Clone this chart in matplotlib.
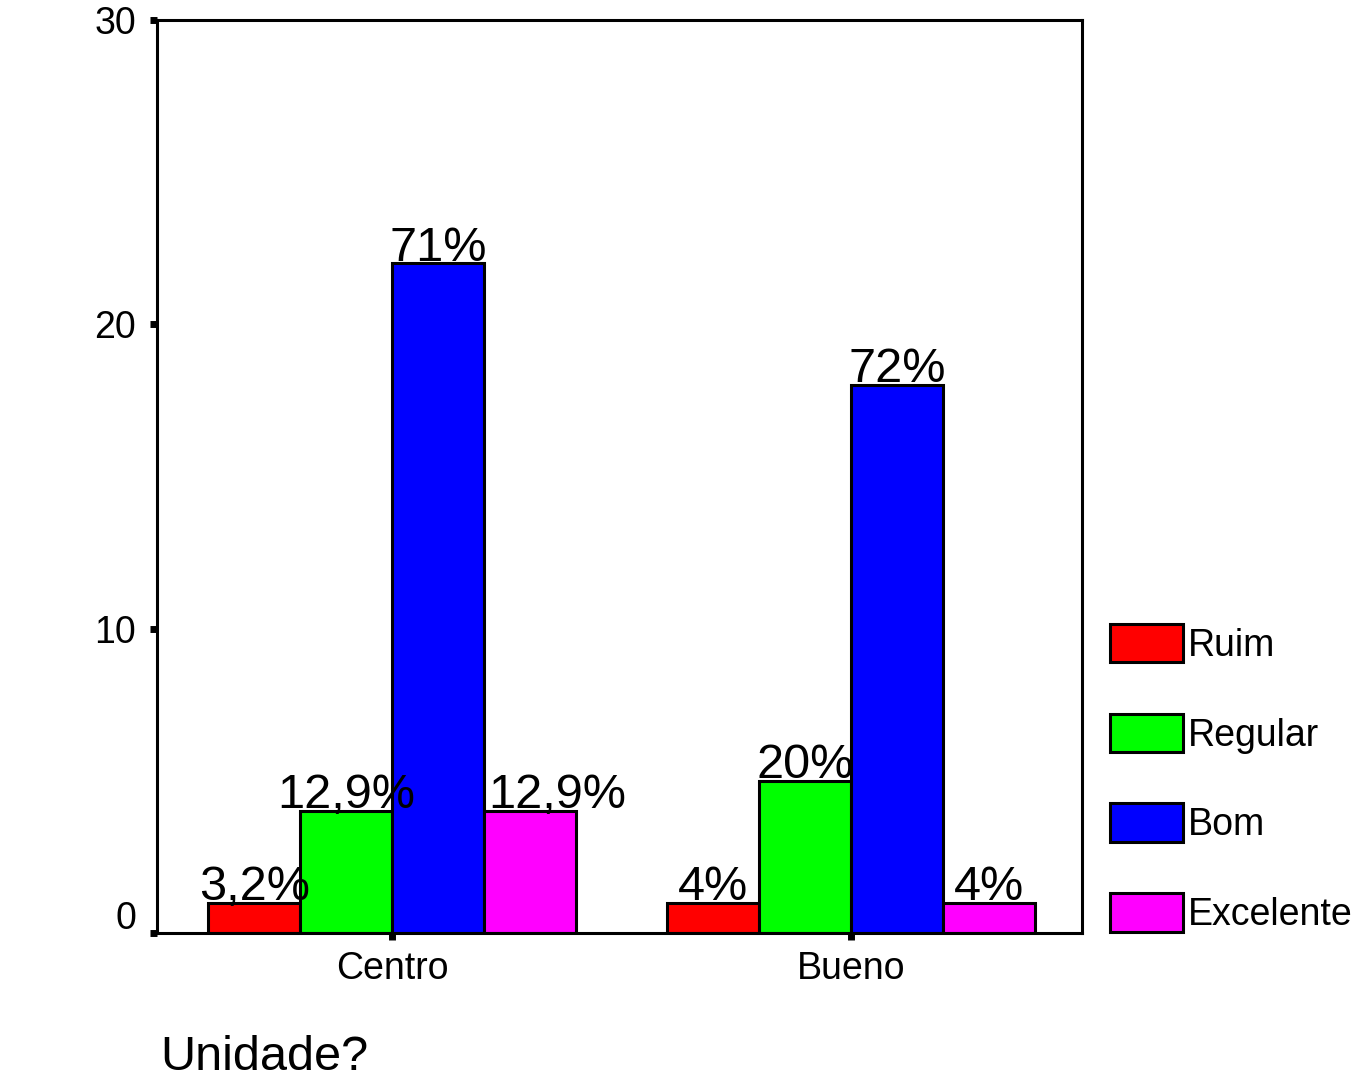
import numpy as np
import matplotlib
matplotlib.use("Agg")
import matplotlib.pyplot as plt
from matplotlib.transforms import ScaledTranslation

plt.rcParams['font.family'] = ['Liberation Sans', 'DejaVu Sans']

# datos
unidades = ['Centro', 'Bueno']
categorias = ['Ruim', 'Regular', 'Bom', 'Excelente']
contagem = {
    'Ruim': [1, 1],
    'Regular': [4, 5],
    'Bom': [22, 18],
    'Excelente': [4, 1],
}
rotulos = {
    'Ruim': ['3,2%', '4%'],
    'Regular': ['12,9%', '20%'],
    'Bom': ['71%', '72%'],
    'Excelente': ['12,9%', '4%'],
}
cores = ['#ff0000', '#00ff00', '#0000ff', '#ff00ff']

fig = plt.figure(figsize=(13.56, 10.84), dpi=100)
ax = fig.add_axes([157 / 1356, 1 - 933 / 1084, (1082 - 157) / 1356, (933 - 20) / 1084])

x = np.arange(len(unidades))
w = 0.2
for i, cat in enumerate(categorias):
    pos = x + (i - 1.5) * w
    ax.bar(pos, contagem[cat], width=w, color=cores[i], edgecolor='black',
           linewidth=2.2, label=cat, zorder=2)
    for j, (p, v) in enumerate(zip(pos, contagem[cat])):
        dx = 20 if (cat == 'Excelente' and j == 0) else 0
        ax.annotate(rotulos[cat][j], (p, v), xytext=(dx, 2), textcoords='offset points',
                    ha='center', va='baseline', fontsize=35, zorder=3)

ax.set_xlim(-0.512, 1.503)
ax.set_ylim(0, 30)
ax.set_yticks([0, 10, 20, 30])
ax.set_xticks(x)
ax.set_xticklabels(unidades)
ax.tick_params(axis='both', direction='out', length=5, width=5, labelsize=27)
ax.tick_params(axis='y', pad=10)
ax.tick_params(axis='x', pad=8)
for s in ax.spines.values():
    s.set_linewidth(2.2)

# o rótulo "0" fica um pouco acima
lab0 = ax.get_yticklabels()[0]
lab0.set_transform(lab0.get_transform() + ScaledTranslation(0, 0.18, fig.dpi_scale_trans))

leg = ax.legend(loc='lower left', bbox_to_anchor=(1110 / 1356, 1 - 933 / 1084),
                bbox_transform=fig.transFigure, frameon=False, fontsize=27,
                handlelength=1.95, handleheight=1.2, handletextpad=0.12,
                labelspacing=1.33, borderpad=0, borderaxespad=0)

fig.text(160 / 1356, 1 - 1070 / 1084, 'Unidade?', fontsize=35, ha='left', va='baseline')

fig.savefig('out.png', dpi=100)
